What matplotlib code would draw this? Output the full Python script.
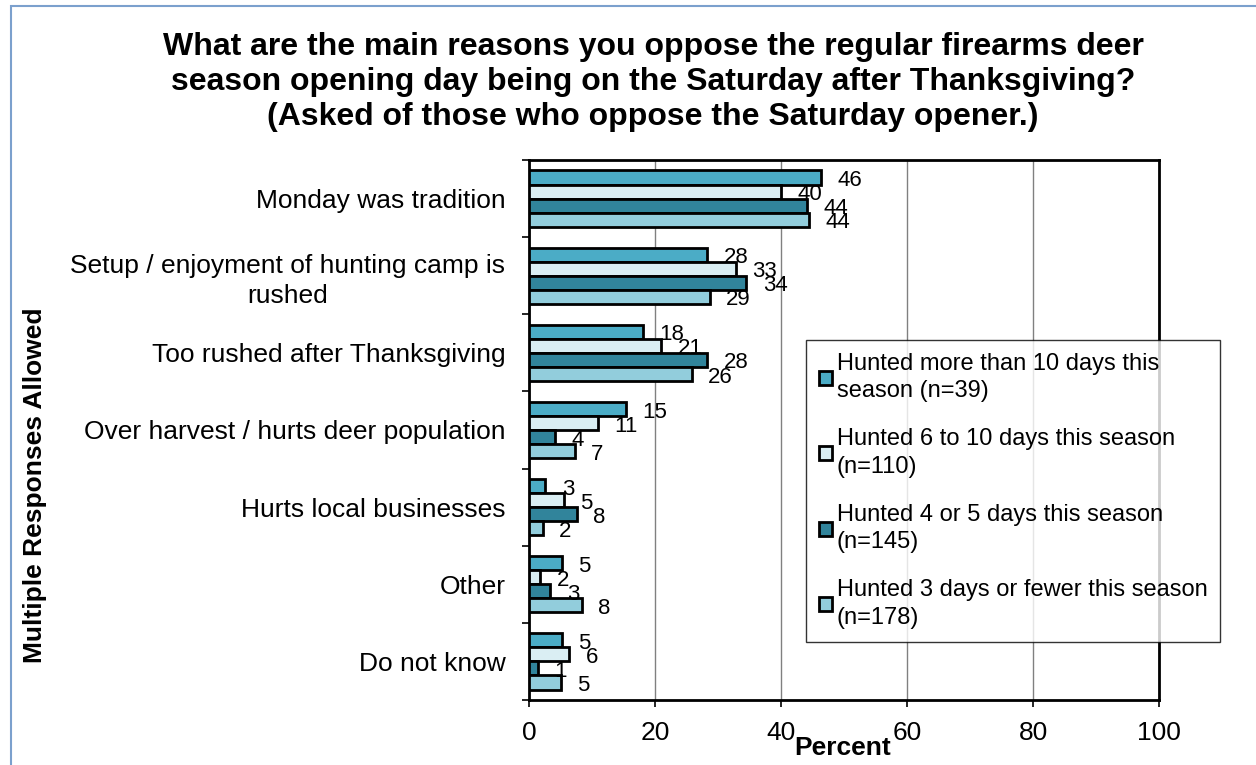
import numpy as np
import matplotlib.pyplot as plt
from matplotlib.patches import Rectangle

plt.rcParams['font.family'] = ['Liberation Sans', 'DejaVu Sans']

categories = ['Monday was tradition',
              'Setup / enjoyment of hunting camp is\nrushed',
              'Too rushed after Thanksgiving',
              'Over harvest / hurts deer population',
              'Hurts local businesses',
              'Other',
              'Do not know']

series_names = ['Hunted more than 10 days this\nseason (n=39)',
                'Hunted 6 to 10 days this season\n(n=110)',
                'Hunted 4 or 5 days this season\n(n=145)',
                'Hunted 3 days or fewer this season\n(n=178)']

more_than_10 = [46.3, 28.3, 18.1, 15.4, 2.6, 5.2, 5.2]
six_to_10 = [40.0, 32.8, 21.0, 11.0, 5.5, 1.8, 6.4]
four_or_5 = [44.2, 34.5, 28.3, 4.1, 7.6, 3.4, 1.4]
three_or_fewer = [44.5, 28.7, 25.8, 7.3, 2.2, 8.4, 5.1]

labels_10 = [46, 28, 18, 15, 3, 5, 5]
labels_6 = [40, 33, 21, 11, 5, 2, 6]
labels_4 = [44, 34, 28, 4, 8, 3, 1]
labels_3 = [44, 29, 26, 7, 2, 8, 5]

colors = ['#4BACC6', '#DAEEF3', '#31849B', '#92CDDC']

fig = plt.figure(figsize=(12.56, 7.65), dpi=100)
ax = fig.add_axes([529 / 1256, 1 - 700 / 765, 630 / 1256, 540 / 765])

y = np.arange(len(categories))
h = 0.182
all_vals = [more_than_10, six_to_10, four_or_5, three_or_fewer]
all_labels = [labels_10, labels_6, labels_4, labels_3]

for j, (vals, labs) in enumerate(zip(all_vals, all_labels)):
    pos = y + (j - 1.5) * h
    ax.barh(pos, vals, height=h, color=colors[j], edgecolor='black',
            linewidth=2, label=series_names[j], zorder=3)
    for p, v, lab in zip(pos, vals, labs):
        ax.text(v + 2.6, p + 0.04, str(lab), ha='left', va='center', fontsize=16, zorder=4)

ax.set_xlim(0, 100)
ax.set_ylim(len(categories) - 0.5, -0.5)
ax.set_xticks(range(0, 101, 20))
ax.tick_params(axis='x', labelsize=19, length=5, width=1.2, pad=10)
ax.xaxis.grid(True, color='#808080', linewidth=1, zorder=0)

ax.set_yticks(np.arange(-0.5, len(categories), 1))
ax.set_yticklabels([])
ax.set_yticks(y, minor=True)
ax.set_yticklabels(categories, minor=True, fontsize=19, multialignment='center',
                   linespacing=1.3)
ax.tick_params(axis='y', which='major', length=5, width=1.2)
ax.tick_params(axis='y', which='minor', length=0, pad=17)

for s in ax.spines.values():
    s.set_linewidth(2)

leg = ax.legend(loc='upper left', bbox_to_anchor=(806 / 1256, 1 - 340 / 765),
                bbox_transform=fig.transFigure, borderaxespad=0, fontsize=17,
                frameon=True, fancybox=False, edgecolor='black', handlelength=0.55,
                handleheight=0.55, handletextpad=0.2, labelspacing=1.1,
                borderpad=0.55)
leg.get_frame().set_linewidth(1)
for t in leg.get_texts():
    t.set_linespacing(1.32)

fig.text(0.52, 1 - 82 / 765,
         'What are the main reasons you oppose the regular firearms deer\n'
         'season opening day being on the Saturday after Thanksgiving?\n'
         '(Asked of those who oppose the Saturday opener.)',
         ha='center', va='center', fontsize=23, fontweight='bold', linespacing=1.22)

fig.text(843 / 1256, 1 - 748 / 765, 'Percent', ha='center', va='center',
         fontsize=19, fontweight='bold')
fig.text(35 / 1256, 1 - 485 / 765, 'Multiple Responses Allowed', ha='center',
         va='center', rotation=90, fontsize=19, fontweight='bold')

fig.patches.append(Rectangle((11 / 1256, -0.1), 1.2, 1.1 - 6 / 765, transform=fig.transFigure,
                             fill=False, edgecolor='#7BA0CD', linewidth=1.5))

fig.savefig('out.png', dpi=100)
